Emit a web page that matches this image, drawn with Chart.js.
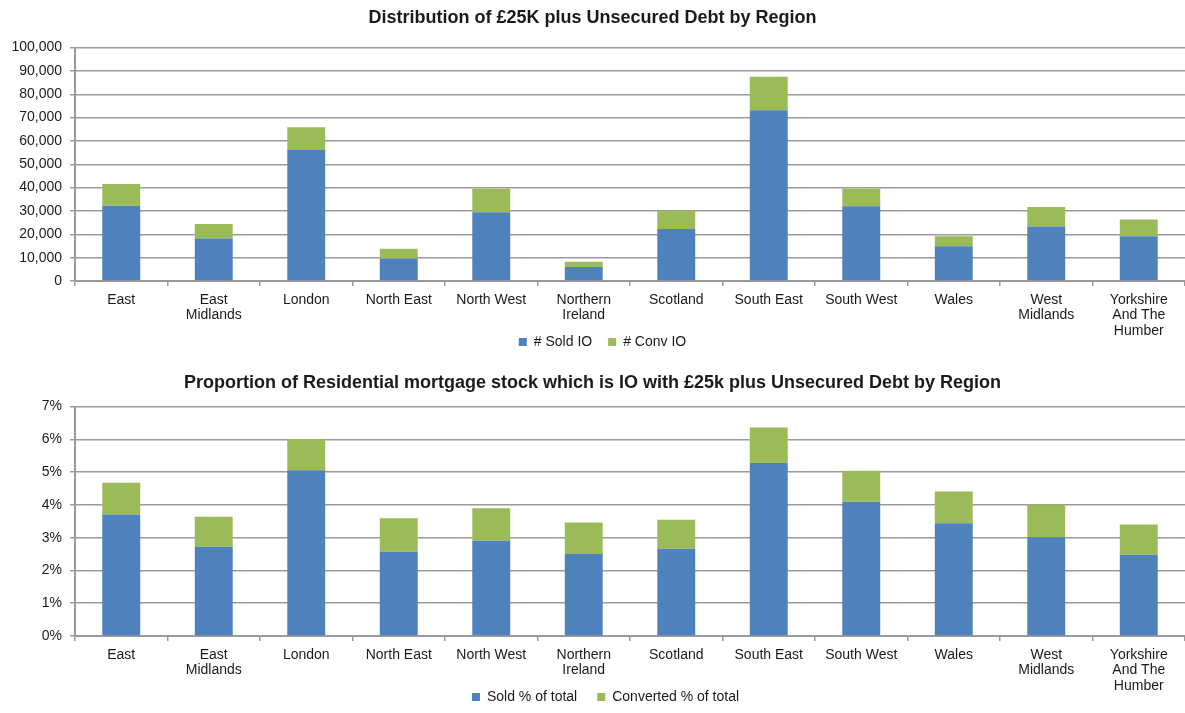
<!DOCTYPE html>
<html>
<head>
<meta charset="utf-8">
<script src="https://cdn.jsdelivr.net/npm/chart.js@4/dist/chart.umd.min.js"></script>
<style>
  html, body { margin: 0; padding: 0; background: #fff; }
  #wrap1 { position: absolute; left: 0; top: 0; width: 1185px; height: 360px; }
  #wrap2 { position: absolute; left: 0; top: 360px; width: 1185px; height: 353px; }
</style>
</head>
<body>
<div id="wrap1"><canvas id="c1"></canvas></div>
<div id="wrap2"><canvas id="c2"></canvas></div>
<script>
const regions = [
  ['East'], ['East', 'Midlands'], ['London'], ['North East'], ['North West'],
  ['Northern', 'Ireland'], ['Scotland'], ['South East'], ['South West'], ['Wales'],
  ['West', 'Midlands'], ['Yorkshire', 'And The', 'Humber']
];
const soldIO = [32200, 18200, 56100, 9600, 29500, 6000, 22300, 73200, 32000, 14900, 23300, 19200];
const convIO = [9400, 6200, 9800, 4200, 10000, 2200, 7800, 14300, 7500, 4300, 8400, 7100];
const soldPct = [3.71, 2.72, 5.06, 2.57, 2.91, 2.50, 2.66, 5.28, 4.10, 3.44, 3.01, 2.48];
const convPct = [0.97, 0.92, 0.94, 1.02, 0.99, 0.96, 0.89, 1.08, 0.94, 0.97, 1.00, 0.92];

const title1 = 'Distribution of £25K plus Unsecured Debt by Region';
const title2 = 'Proportion of Residential mortgage stock which is IO with £25k plus Unsecured Debt by Region';

const BLUE = '#4f81bd', GREEN = '#9bbb59', GRID = '#9a9a9a', TEXT = '#1a1a1a';
const FONT = "'Liberation Sans', Arial, sans-serif";

// Places the legend at a given centre line and lets x labels run past the scale box.
const placeLegend = {
  id: 'placeLegend',
  afterLayout(chart, args, opts) {
    const lg = chart.legend;
    if (lg) {
      const pad = lg.options.labels.padding;
      const h = lg.bottom - lg.top;
      lg.top = opts.centerY - pad - 7;
      lg.bottom = lg.top + h;
      lg.left += opts.dx;
      lg.right += opts.dx;
    }
    chart.scales.x.bottom = chart.height;
  }
};

function makeChart(id, labels1, d1, labels2, d2, title, titlePad, yOpts, xHeight, legendPad, legendPos) {
  return new Chart(document.getElementById(id), {
    type: 'bar',
    plugins: [placeLegend],
    data: {
      labels: regions,
      datasets: [
        { label: labels1, data: d1, backgroundColor: BLUE, barPercentage: 0.41, categoryPercentage: 1 },
        { label: labels2, data: d2, backgroundColor: GREEN, barPercentage: 0.41, categoryPercentage: 1 }
      ]
    },
    options: {
      responsive: true,
      maintainAspectRatio: false,
      animation: false,
      layout: { padding: { left: 0, right: 0, top: 0, bottom: 0 } },
      plugins: {
        placeLegend: legendPos,
        title: {
          display: true, text: title, color: TEXT,
          font: { family: FONT, size: 18, weight: 'bold' },
          padding: titlePad
        },
        legend: {
          position: 'bottom',
          labels: { color: TEXT, font: { family: FONT, size: 14 }, boxWidth: 8, boxHeight: 8, padding: legendPad }
        },
        tooltip: { enabled: false }
      },
      scales: {
        x: {
          stacked: true,
          afterFit: s => { s.height = xHeight; },
          grid: { display: true, drawOnChartArea: false, drawTicks: true, tickLength: 5, offset: true, color: GRID, lineWidth: 1.5 },
          border: { display: true, color: GRID, width: 2 },
          ticks: { color: TEXT, font: { family: FONT, size: 14, lineHeight: 1.12 }, padding: 6, maxRotation: 0, autoSkip: false }
        },
        y: Object.assign({
          stacked: true,
          afterFit: s => { s.width = 75; },
          grid: { color: GRID, lineWidth: 1.5, tickLength: 5 },
          border: { display: true, color: GRID, width: 2 },
        }, yOpts)
      }
    }
  });
}

makeChart('c1', '# Sold IO', soldIO, '# Conv IO', convIO, title1,
  { top: 7, bottom: 19 },
  {
    min: 0, max: 100000,
    ticks: { stepSize: 10000, color: TEXT, font: { family: FONT, size: 14 }, padding: 8,
      callback: v => v.toLocaleString('en-GB') }
  }, 39, 16, { centerY: 342, dx: 10 });

makeChart('c2', 'Sold % of total', soldPct, 'Converted % of total', convPct, title2,
  { top: 12, bottom: 13 },
  {
    min: 0, max: 7,
    ticks: { stepSize: 1, color: TEXT, font: { family: FONT, size: 14 }, padding: 8,
      callback: v => v + '%' }
  }, 33, 20, { centerY: 337, dx: 13 });
</script>
</body>
</html>
